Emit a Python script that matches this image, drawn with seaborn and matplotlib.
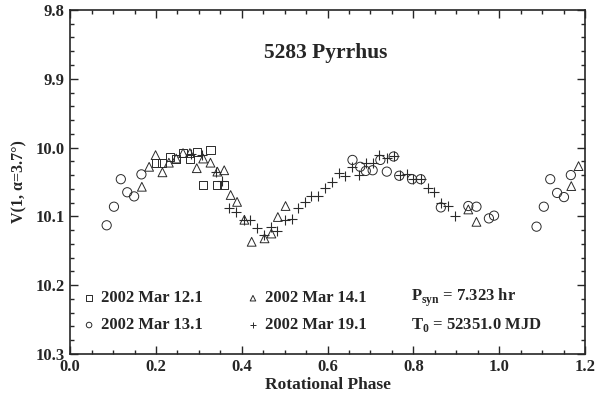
import numpy as np
import seaborn as sns
from matplotlib import pyplot as plt
from matplotlib.ticker import MultipleLocator, FormatStrFormatter

# 2002 Mar 12.1 (squares)
mar12_phase = [0.199, 0.215, 0.232, 0.247, 0.263, 0.279, 0.295, 0.310, 0.327, 0.343, 0.359]
mar12_mag = [10.022, 10.022, 10.014, 10.017, 10.008, 10.016, 10.006, 10.054, 10.003, 10.054, 10.054]

# 2002 Mar 13.1 (circles)
mar13_phase = [0.085, 0.102, 0.118, 0.133, 0.149, 0.166,
               0.658, 0.676, 0.689, 0.705, 0.723, 0.738, 0.754, 0.767, 0.797, 0.817,
               0.864, 0.928, 0.947, 0.976, 0.988,
               1.087, 1.104, 1.119, 1.135, 1.151, 1.167]
mar13_mag = [10.113, 10.086, 10.046, 10.065, 10.071, 10.039,
             10.018, 10.028, 10.034, 10.033, 10.018, 10.035, 10.013, 10.041, 10.046, 10.046,
             10.087, 10.085, 10.086, 10.103, 10.099,
             10.115, 10.086, 10.046, 10.066, 10.072, 10.040]

# 2002 Mar 14.1 (triangles)
mar14_phase = [0.167, 0.184, 0.199, 0.215, 0.230, 0.247, 0.263, 0.279, 0.295, 0.310,
               0.327, 0.343, 0.359, 0.374, 0.389, 0.406, 0.423, 0.453, 0.469, 0.484,
               0.502, 0.928, 0.947, 1.168, 1.185]
mar14_mag = [10.057, 10.028, 10.011, 10.036, 10.022, 10.016, 10.008, 10.008, 10.030, 10.016,
             10.022, 10.035, 10.033, 10.069, 10.079, 10.105, 10.137, 10.132, 10.125, 10.101,
             10.085, 10.090, 10.108, 10.056, 10.027]

# 2002 Mar 19.1 (crosses)
mar19_phase = [0.282, 0.308, 0.339, 0.354, 0.370, 0.387, 0.405, 0.420, 0.436, 0.451,
               0.467, 0.482, 0.500, 0.516, 0.530, 0.547, 0.562, 0.577, 0.593, 0.610,
               0.626, 0.641, 0.657, 0.674, 0.689, 0.705, 0.720, 0.738, 0.754, 0.769,
               0.784, 0.800, 0.817, 0.833, 0.849, 0.864, 0.880, 0.897]
mar19_mag = [10.010, 10.011, 10.035, 10.048, 10.088, 10.093, 10.106, 10.106, 10.117, 10.127,
             10.115, 10.122, 10.105, 10.104, 10.088, 10.079, 10.070, 10.070, 10.059, 10.050,
             10.037, 10.041, 10.028, 10.040, 10.022, 10.023, 10.011, 10.015, 10.013, 10.040,
             10.039, 10.046, 10.046, 10.059, 10.064, 10.080, 10.085, 10.099]

sns.set_style("ticks")
plt.rcParams["font.family"] = ["Liberation Serif", "DejaVu Serif"]
plt.rcParams["font.weight"] = "bold"
plt.rcParams["mathtext.fontset"] = "custom"
plt.rcParams["mathtext.rm"] = "Liberation Serif:bold"
plt.rcParams["mathtext.bf"] = "Liberation Serif:bold"

ink = "#2a2a2a"
fig = plt.figure(figsize=(6, 3.99), dpi=100)
ax = fig.add_axes([0.117, 0.113, 0.858, 0.862])

open_kw = dict(facecolor="none", edgecolor=ink, linewidth=0.7, ax=ax)
sns.scatterplot(x=mar12_phase, y=mar12_mag, marker="s", s=34, **open_kw)
sns.scatterplot(x=mar13_phase, y=mar13_mag, marker="o", s=44, **open_kw)
sns.scatterplot(x=mar14_phase, y=mar14_mag, marker="^", s=40, **open_kw)
sns.scatterplot(x=mar19_phase, y=mar19_mag, marker="+", s=48, color=ink, linewidth=0.8, ax=ax)

ax.set_xlim(0.0, 1.2)
ax.set_ylim(10.3, 9.8)
ax.xaxis.set_major_locator(MultipleLocator(0.2))
ax.xaxis.set_minor_locator(MultipleLocator(0.05))
ax.yaxis.set_major_locator(MultipleLocator(0.1))
ax.yaxis.set_minor_locator(MultipleLocator(0.02))
ax.xaxis.set_major_formatter(FormatStrFormatter("%.1f"))
ax.yaxis.set_major_formatter(FormatStrFormatter("%.1f"))
ax.tick_params(which="both", direction="in", top=True, right=True, width=1.0)
ax.tick_params(which="major", length=6, labelsize=12, pad=4)
ax.tick_params(which="minor", length=3)
for sp in ax.spines.values():
    sp.set_linewidth(1.2)

ax.set_xlabel("Rotational Phase", fontsize=12.5, fontweight="bold", labelpad=1)
ax.set_ylabel("V(1, \u03b1=3.7\u00b0)", fontsize=11.5, fontweight="bold", labelpad=6)

ax.text(0.595, 9.862, "5283 Pyrrhus", fontsize=15.5, fontweight="bold", ha="center", va="center")

# legend-style annotation block
row_y = [10.219, 10.258]
legend_items = [
    (0.044, 0.072, row_y[0], "s", "2002 Mar 12.1"),
    (0.044, 0.072, row_y[1], "o", "2002 Mar 13.1"),
    (0.426, 0.453, row_y[0], "^", "2002 Mar 14.1"),
    (0.426, 0.453, row_y[1], "+", "2002 Mar 19.1"),
]
for mx, tx, ty, mk, label in legend_items:
    if mk == "+":
        ax.scatter([mx], [ty], marker=mk, s=22, color=ink, linewidth=0.7)
    else:
        ax.scatter([mx], [ty], marker=mk, s=16, facecolor="none", edgecolor=ink, linewidth=0.7)
    ax.text(tx, ty, label, fontsize=12, fontweight="bold", va="center", ha="left")

ax.text(0.795, row_y[0], r"P$_{\mathbf{syn}}$ = 7.323 hr", fontsize=12, fontweight="bold",
        va="center", ha="left")
ax.text(0.795, row_y[1], r"T$_{\mathbf{0}}$ = 52351.0 MJD", fontsize=12, fontweight="bold",
        va="center", ha="left")

fig.savefig("out.png", dpi=100)
